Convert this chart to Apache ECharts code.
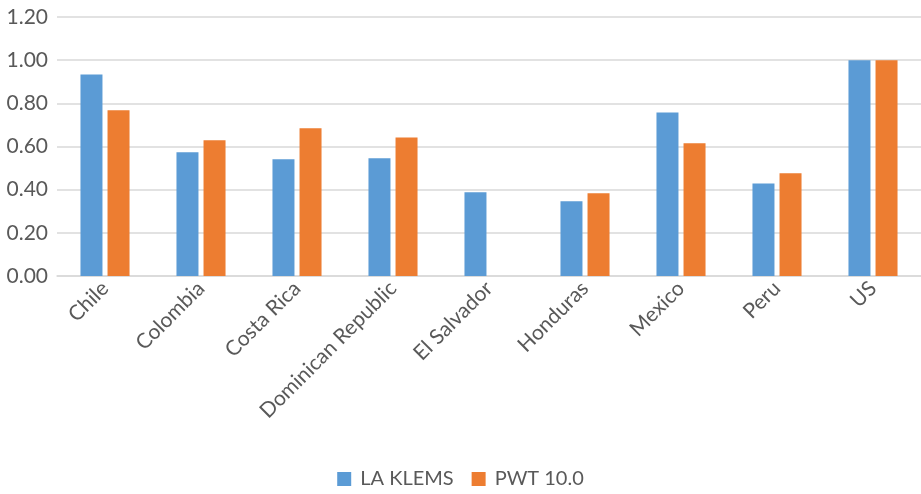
<!DOCTYPE html>
<html><head><meta charset="utf-8">
<script src="https://cdn.jsdelivr.net/npm/echarts@6/dist/echarts.min.js"></script>
<style>html,body{margin:0;padding:0;background:#fff}#c{width:921px;height:494px}</style>
</head><body><div id="c"></div>
<script>
const categories = ['Chile','Colombia','Costa Rica','Dominican Republic','El Salvador','Honduras','Mexico','Peru','US'];
const laKlems = [0.934, 0.573, 0.541, 0.545, 0.388, 0.346, 0.758, 0.429, 1.0];
const pwt10 = [0.768, 0.629, 0.684, 0.642, null, 0.383, 0.615, 0.476, 1.0];
const yTicks = [0, 0.2, 0.4, 0.6, 0.8, 1.0, 1.2];

const font = 'Lato, sans-serif';
const chart = echarts.init(document.getElementById('c'), null, {renderer:'canvas'});
chart.setOption({
  animation: false,
  grid: {left: 57, right: 0, top: 17, height: 259, containLabel: false},
  legend: {
    bottom: 0, left: 'center', itemWidth: 14, itemHeight: 14, itemGap: 18,
    icon: 'rect',
    textStyle: {fontFamily: font, fontSize: 20, color: '#595959', padding: [0, 0, 0, 4]},
    data: ['LA KLEMS','PWT 10.0']
  },
  xAxis: {
    type: 'category', data: categories,
    axisLine: {lineStyle: {color: '#d9d9d9', width: 1.5}},
    axisTick: {show: false},
    axisLabel: {rotate: 45, interval: 0, margin: 9, fontFamily: font, fontSize: 21, color: '#595959'}
  },
  yAxis: {
    type: 'value', min: 0, max: 1.2, interval: 0.2,
    axisLine: {show: false}, axisTick: {show: false},
    splitLine: {lineStyle: {color: '#d9d9d9', width: 1.5}},
    axisLabel: {fontFamily: font, fontSize: 21, color: '#595959', margin: 9,
      formatter: v => yTicks.includes(Math.round(v*10)/10) ? v.toFixed(2) : ''}
  },
  series: [
    {name: 'LA KLEMS', type: 'bar', data: laKlems, barWidth: 22, barGap: '23%', itemStyle: {color: '#5B9BD5'}},
    {name: 'PWT 10.0', type: 'bar', data: pwt10, barWidth: 22, itemStyle: {color: '#ED7D31'}}
  ]
});
</script></body></html>
